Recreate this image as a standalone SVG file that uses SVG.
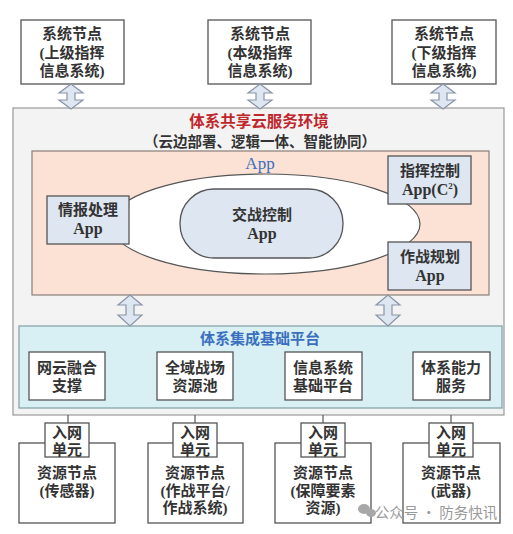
<svg xmlns="http://www.w3.org/2000/svg" width="513" height="534" viewBox="0 0 513 534">
<defs>
<style>
text{font-family:"Liberation Serif","Noto Sans CJK SC",serif;font-size:15px;fill:#333;text-anchor:middle;font-weight:bold}
.box{fill:#fff;stroke:#555;stroke-width:1.3}
.app{fill:#dde6f1;stroke:#555;stroke-width:1.3}
.arr{fill:#dde6f1;stroke:#8a94a6;stroke-width:1.2}
.ln{stroke:#555;stroke-width:1.2;fill:none}
</style>
<path id="dbl" d="M0,0 L12,9 L4,9 L4,16 L12,16 L0,25 L-12,16 L-4,16 L-4,9 L-12,9 Z"/>
<path id="dbl2" d="M0,0 L12,10 L4,10 L4,20 L12,20 L0,31 L-12,20 L-4,20 L-4,10 L-12,10 Z"/>
</defs>
<rect width="513" height="534" fill="#fff"/>

<g id="env">
<rect x="13" y="108" width="491" height="307" fill="#f3f3f3" stroke="#999" stroke-width="1.2"/>
<text x="259" y="127" style="fill:#c0272d;font-size:15.5px">体系共享云服务环境</text>
<text x="260" y="147" style="font-size:14.5px">（云边部署、逻辑一体、智能协同）</text>
</g>

<g id="appLayer">
<rect x="32" y="151" width="457" height="144" fill="#fbe2d5" stroke="#8a7f78" stroke-width="1.2"/>
<text x="260" y="169" style="fill:#3a6fc0;font-weight:normal;font-size:17px">App</text>
<ellipse cx="265" cy="224" rx="155" ry="50" fill="#fff" stroke="#555" stroke-width="1.2"/>
</g>

<g id="engage">
<rect x="180" y="189" width="163" height="69" rx="34" class="app"/>
<text x="262" y="220">交战控制</text>
<text x="262" y="239" style="font-size:16px">App</text>
</g>
<g id="intel">
<rect x="47" y="196" width="82" height="48" class="app"/>
<text x="88" y="215">情报处理</text>
<text x="88" y="234" style="font-size:16px">App</text>
</g>
<g id="c2">
<rect x="388" y="156" width="83" height="48" class="app"/>
<text x="430" y="176">指挥控制</text>
<text x="430" y="195" style="font-size:16px">App(C<tspan style="font-size:9px" dy="-6">2</tspan><tspan dy="6">)</tspan></text>
</g>
<g id="plan">
<rect x="388" y="242" width="83" height="48" class="app"/>
<text x="430" y="262">作战规划</text>
<text x="430" y="281" style="font-size:16px">App</text>
</g>

<g id="top1">
<rect x="21" y="20" width="103" height="64" class="box"/>
<text x="72" y="39">系统节点</text>
<text x="72" y="58">(上级指挥</text>
<text x="72" y="76">信息系统)</text>
</g>
<g id="top2">
<rect x="208" y="20" width="103" height="64" class="box"/>
<text x="260" y="39">系统节点</text>
<text x="260" y="58">(本级指挥</text>
<text x="260" y="76">信息系统)</text>
</g>
<g id="top3">
<rect x="392" y="20" width="104" height="64" class="box"/>
<text x="444" y="39">系统节点</text>
<text x="444" y="58">(下级指挥</text>
<text x="444" y="76">信息系统)</text>
</g>

<g id="platform">
<rect x="19" y="326" width="483" height="82" fill="#d8f0f3" stroke="#7f9ea3" stroke-width="1.2"/>
<text x="260" y="344" style="fill:#3a6fc0">体系集成基础平台</text>
</g>
<g id="p1"><rect x="29" y="352" width="76" height="48" class="box"/><text x="67" y="373">网云融合</text><text x="67" y="391">支撑</text></g>
<g id="p2"><rect x="157" y="352" width="76" height="48" class="box"/><text x="195" y="373">全域战场</text><text x="195" y="391">资源池</text></g>
<g id="p3"><rect x="285" y="352" width="77" height="48" class="box"/><text x="323" y="373">信息系统</text><text x="323" y="391">基础平台</text></g>
<g id="p4"><rect x="413" y="352" width="77" height="48" class="box"/><text x="451" y="373">体系能力</text><text x="451" y="391">服务</text></g>

<g id="r1"><rect x="19" y="443" width="96" height="80" class="box"/><text x="67" y="478">资源节点</text><text x="67" y="496">(传感器)</text></g>
<g id="r2"><rect x="148" y="443" width="95" height="80" class="box"/><text x="195" y="478">资源节点</text><text x="195" y="496">(作战平台/</text><text x="195" y="513">作战系统)</text></g>
<g id="r3"><rect x="275" y="443" width="96" height="80" class="box"/><text x="323" y="478">资源节点</text><text x="323" y="496">(保障要素</text><text x="323" y="513">资源)</text></g>
<g id="r4"><rect x="403" y="443" width="97" height="80" class="box"/><text x="451" y="478">资源节点</text><text x="451" y="496">(武器)</text></g>

<g id="u1"><rect x="45" y="423" width="44" height="34" class="box"/><text x="67" y="438">入网</text><text x="67" y="455">单元</text></g>
<g id="u2"><rect x="173" y="423" width="44" height="34" class="box"/><text x="195" y="438">入网</text><text x="195" y="455">单元</text></g>
<g id="u3"><rect x="301" y="423" width="44" height="34" class="box"/><text x="323" y="438">入网</text><text x="323" y="455">单元</text></g>
<g id="u4"><rect x="429" y="423" width="44" height="34" class="box"/><text x="451" y="438">入网</text><text x="451" y="455">单元</text></g>

<g id="connectors">
<use href="#dbl" x="71" y="84" class="arr"/>
<use href="#dbl" x="260" y="84" class="arr"/>
<use href="#dbl" x="443" y="84" class="arr"/>
<use href="#dbl2" x="130" y="295" class="arr"/>
<use href="#dbl2" x="388" y="295" class="arr"/>
<line x1="68" y1="415" x2="68" y2="423" class="ln"/>
<line x1="195" y1="415" x2="195" y2="423" class="ln"/>
<line x1="323" y1="415" x2="323" y2="423" class="ln"/>
<line x1="451" y1="415" x2="451" y2="423" class="ln"/>
</g>

<g id="watermark">
<ellipse cx="364" cy="509" rx="6" ry="5" fill="#a8a8a8"/>
<ellipse cx="371" cy="513" rx="5" ry="4" fill="#a8a8a8"/>
<text x="436" y="518" style="fill:#9a9a9a;font-weight:normal;font-family:'Noto Sans CJK SC',sans-serif;font-size:14.5px">公众号 · 防务快讯</text>
</g>
</svg>
